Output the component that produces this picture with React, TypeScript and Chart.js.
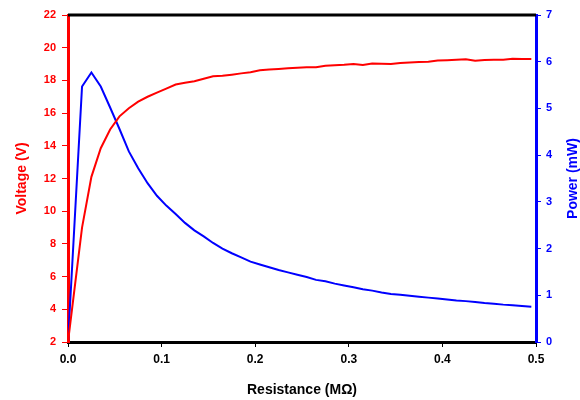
import React, { useEffect, useRef } from "react";
import { Chart, registerables } from "chart.js";

Chart.register(...registerables);

const resistance = [
  0, 0.015, 0.025, 0.035, 0.045, 0.055, 0.065, 0.075, 0.085, 0.095,
  0.105, 0.115, 0.125, 0.135, 0.145, 0.155, 0.165, 0.175, 0.185, 0.195,
  0.205, 0.215, 0.225, 0.235, 0.245, 0.255, 0.265, 0.275, 0.285, 0.295,
  0.305, 0.315, 0.325, 0.335, 0.345, 0.355, 0.365, 0.375, 0.385, 0.395,
  0.405, 0.415, 0.425, 0.435, 0.445, 0.455, 0.465, 0.475, 0.485, 0.495,
];

const voltage = [
  2.0, 9.0, 12.1, 13.85, 15.0, 15.8, 16.3, 16.7, 17.0, 17.25,
  17.5, 17.75, 17.85, 17.95, 18.1, 18.25, 18.28, 18.35, 18.43, 18.5,
  18.62, 18.66, 18.7, 18.74, 18.78, 18.8, 18.8, 18.9, 18.92, 18.95,
  19.0, 18.94, 19.04, 19.02, 19.0, 19.06, 19.1, 19.12, 19.14, 19.22,
  19.24, 19.27, 19.3, 19.2, 19.25, 19.26, 19.27, 19.32, 19.31, 19.31,
];

const power = [
  0, 5.47, 5.77, 5.47, 5.02, 4.56, 4.08, 3.72, 3.4, 3.13,
  2.92, 2.74, 2.55, 2.39, 2.26, 2.12, 2.0, 1.9, 1.81, 1.72,
  1.66, 1.6, 1.54, 1.49, 1.44, 1.39, 1.33, 1.3, 1.25, 1.21,
  1.17, 1.13, 1.1, 1.06, 1.03, 1.01, 0.99, 0.97, 0.95, 0.93,
  0.91, 0.89, 0.875, 0.855, 0.835, 0.82, 0.8, 0.785, 0.77, 0.755,
];

const xTicks = [0, 0.1, 0.2, 0.3, 0.4, 0.5];
const voltageTicks = [2, 4, 6, 8, 10, 12, 14, 16, 18, 20, 22];
const powerTicks = [0, 1, 2, 3, 4, 5, 6, 7];

const FONT = '"Liberation Sans", Arial, sans-serif';

const decorPlugin = {
  id: "decor",
  afterDraw(chart: any) {
    const { ctx, chartArea } = chart;
    const { left, right, top, bottom } = chartArea;
    ctx.save();
    ctx.strokeStyle = "#000000";
    ctx.lineWidth = 3;
    ctx.beginPath();
    ctx.moveTo(left, top);
    ctx.lineTo(right, top);
    ctx.stroke();

    ctx.font = `bold 14px ${FONT}`;
    ctx.textAlign = "center";
    ctx.textBaseline = "middle";
    ctx.fillStyle = "#000000";
    ctx.fillText("Resistance (MΩ)", (left + right) / 2, 390);

    const midY = (top + bottom) / 2;
    ctx.save();
    ctx.translate(22, midY);
    ctx.rotate(-Math.PI / 2);
    ctx.fillStyle = "#ff0000";
    ctx.fillText("Voltage (V)", 0, 0);
    ctx.restore();

    ctx.save();
    ctx.translate(573, midY);
    ctx.rotate(-Math.PI / 2);
    ctx.fillStyle = "#0000ff";
    ctx.fillText("Power (mW)", 0, 0);
    ctx.restore();

    ctx.restore();
  },
};

export default function App() {
  const canvasRef = useRef<HTMLCanvasElement | null>(null);

  useEffect(() => {
    if (!canvasRef.current) return;
    const chart = new Chart(canvasRef.current, {
      type: "line",
      data: {
        datasets: [
          {
            label: "Voltage",
            data: resistance.map((r, i) => ({ x: r, y: voltage[i] })),
            borderColor: "#ff0000",
            borderWidth: 2,
            pointRadius: 0,
            tension: 0,
            yAxisID: "y",
          },
          {
            label: "Power",
            data: resistance.map((r, i) => ({ x: r, y: power[i] })),
            borderColor: "#0000ff",
            borderWidth: 2,
            pointRadius: 0,
            tension: 0,
            yAxisID: "y1",
          },
        ],
      },
      options: {
        responsive: false,
        animation: false,
        layout: { padding: { top: 15, left: 0, right: 0, bottom: 0 } },
        plugins: {
          legend: { display: false },
          tooltip: { enabled: false },
        },
        scales: {
          x: {
            type: "linear",
            min: 0,
            max: 0.5,
            afterBuildTicks: (scale: any) => {
              scale.ticks = xTicks.map((v) => ({ value: v }));
            },
            afterFit: (scale: any) => {
              scale.height = 58;
            },
            ticks: {
              color: "#000000",
              font: { family: FONT, size: 12, weight: "bold" },
              padding: 5,
              maxRotation: 0,
              callback: (v: any) => Number(v).toFixed(1),
            },
            grid: {
              drawOnChartArea: false,
              drawTicks: true,
              tickLength: 5,
              tickColor: "#000000",
              tickWidth: 1,
            },
            border: { color: "#000000", width: 3 },
          },
          y: {
            type: "linear",
            position: "left",
            min: 2,
            max: 22,
            afterBuildTicks: (scale: any) => {
              scale.ticks = voltageTicks.map((v) => ({ value: v }));
            },
            afterFit: (scale: any) => {
              scale.width = 68;
            },
            ticks: {
              color: "#ff0000",
              font: { family: FONT, size: 11, weight: "bold" },
              padding: 6,
            },
            grid: {
              drawOnChartArea: false,
              drawTicks: true,
              tickLength: 6,
              tickColor: "#ff0000",
              tickWidth: 1,
            },
            border: { color: "#ff0000", width: 3 },
          },
          y1: {
            type: "linear",
            position: "right",
            min: 0,
            max: 7,
            afterBuildTicks: (scale: any) => {
              scale.ticks = powerTicks.map((v) => ({ value: v }));
            },
            afterFit: (scale: any) => {
              scale.width = 44;
            },
            ticks: {
              color: "#0000ff",
              font: { family: FONT, size: 11, weight: "bold" },
              padding: 5,
            },
            grid: {
              drawOnChartArea: false,
              drawTicks: true,
              tickLength: 5,
              tickColor: "#0000ff",
              tickWidth: 1,
            },
            border: { color: "#0000ff", width: 3 },
          },
        },
      },
      plugins: [decorPlugin],
    });
    return () => chart.destroy();
  }, []);

  return (
    <div style={{ position: "absolute", left: 0, top: 0, width: 580, height: 400, background: "#ffffff" }}>
      <canvas ref={canvasRef} width={580} height={400} />
    </div>
  );
}
